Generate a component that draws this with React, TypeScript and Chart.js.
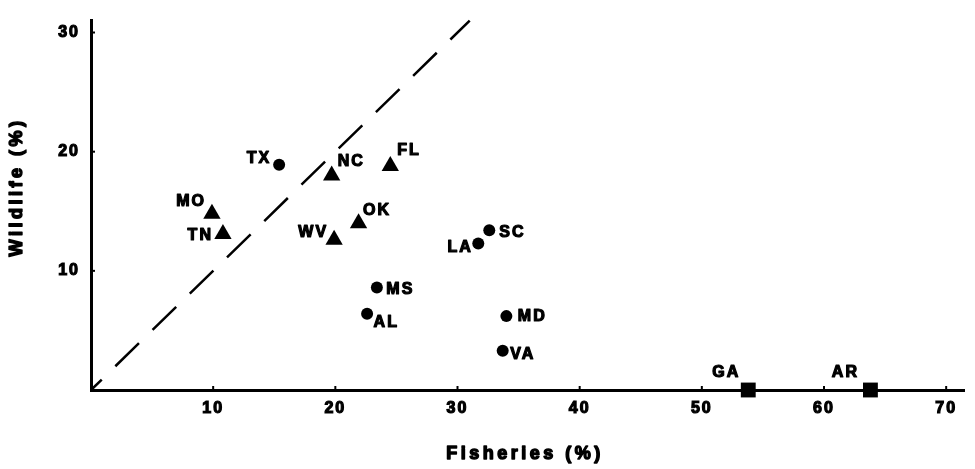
import React, { useEffect, useRef } from "react";
import { Chart, registerables } from "chart.js";

Chart.register(...registerables);

// ---- data ----
const circleStates = ["TX", "LA", "SC", "MS", "AL", "MD", "VA"];
const circleFisheries = [15.4, 31.7, 32.6, 23.4, 22.6, 34.0, 33.7];
const circleWildlife = [18.9, 12.3, 13.4, 8.6, 6.4, 6.2, 3.3];

const triangleStates = ["NC", "FL", "MO", "TN", "WV", "OK"];
const triangleFisheries = [19.7, 24.5, 9.9, 10.8, 19.9, 21.9];
const triangleWildlife = [18.0, 18.8, 14.8, 13.1, 12.6, 14.0];

const squareStates = ["GA", "AR"];
const squareFisheries = [53.8, 63.8];
const squareWildlife = [0, 0];

const refLineX = [0, 31];
const refLineY = [0, 31];

const xTicks = [10, 20, 30, 40, 50, 60, 70];
const yTicks = [10, 20, 30];

const xTitle = "Fisheries (%)";
const yTitle = "Wildlife (%)";

// ---- label placement (style) : side R = label right of point, L = label left ----
const labelPlacement: Record<string, [string, number, number]> = {
  TX: ["L", -10, -6],
  NC: ["R", 6, -13.5],
  FL: ["R", 7, -15.5],
  MO: ["L", -8, -12],
  TN: ["L", -12, 1.5],
  WV: ["L", -8, -7],
  OK: ["R", 4.5, -12.5],
  LA: ["L", -7.5, 4.5],
  SC: ["R", 10, 2],
  MS: ["R", 9.5, 2],
  AL: ["R", 6.5, 9],
  MD: ["R", 11.5, 0],
  VA: ["R", 7.5, 4],
  GA: ["L", -10, -17.5],
  AR: ["L", -13.5, -17.5],
};

const FONT = "'Liberation Sans', Arial, sans-serif";

const pts = (xs: number[], ys: number[]) => xs.map((x, i) => ({ x, y: ys[i] }));

const heavyText = (ctx: CanvasRenderingContext2D, t: string, x: number, y: number, sw: number) => {
  ctx.lineWidth = sw;
  ctx.lineJoin = "round";
  ctx.strokeStyle = "#000";
  ctx.strokeText(t, x, y);
  ctx.fillText(t, x, y);
};

const decorPlugin = {
  id: "decor",
  beforeDraw(chart: any) {
    const ctx = chart.ctx;
    ctx.fillStyle = "#fff";
    ctx.fillRect(0, 0, chart.width, chart.height);
    (ctx as any).letterSpacing = "2px";
  },
  afterDraw(chart: any) {
    const ctx = chart.ctx;
    const xs = chart.scales.x;
    const ys = chart.scales.y;
    const area = chart.chartArea;
    ctx.save();
    // inward tick bumps
    ctx.strokeStyle = "#000";
    ctx.lineWidth = 2;
    xTicks.forEach((v) => {
      const px = xs.getPixelForValue(v);
      ctx.beginPath();
      ctx.moveTo(px, area.bottom);
      ctx.lineTo(px, area.bottom - 4);
      ctx.stroke();
    });
    yTicks.forEach((v) => {
      const py = ys.getPixelForValue(v);
      ctx.beginPath();
      ctx.moveTo(area.left, py);
      ctx.lineTo(area.left + 4, py);
      ctx.stroke();
    });
    // point labels
    ctx.fillStyle = "#000";
    ctx.font = `bold 16px ${FONT}`;
    (ctx as any).letterSpacing = "2px";
    ctx.textBaseline = "middle";
    ctx.textAlign = "left";
    chart.data.datasets.forEach((ds: any, di: number) => {
      if (!ds.stateLabels) return;
      const meta = chart.getDatasetMeta(di);
      meta.data.forEach((el: any, j: number) => {
        const name = ds.stateLabels[j];
        const p = labelPlacement[name] || ["R", 8, 0];
        const w = ctx.measureText(name).width - 2;
        const x = p[0] === "R" ? el.x + p[1] : el.x + p[1] - w;
        heavyText(ctx, name, x, el.y + p[2], 1.2);
      });
    });
    // axis titles
    ctx.font = `bold 18px ${FONT}`;
    (ctx as any).letterSpacing = "3.5px";
    ctx.textAlign = "center";
    heavyText(ctx, xTitle, 525, 454, 1.4);
    ctx.translate(17, 187);
    ctx.rotate(-Math.PI / 2);
    heavyText(ctx, yTitle, 0, 0, 1.4);
    ctx.restore();
  },
};

export default function App() {
  const ref = useRef<HTMLCanvasElement | null>(null);
  useEffect(() => {
    document.body.style.margin = "0";
    if (!ref.current) return;
    const tickFont = { family: FONT, size: 16, weight: "bold" as const };
    const chart = new Chart(ref.current, {
      type: "scatter",
      data: {
        datasets: [
          {
            type: "line",
            data: pts(refLineX, refLineY),
            borderColor: "#000",
            borderWidth: 2.5,
            borderDash: [33, 19],
            borderDashOffset: 18,
            pointRadius: 0,
            fill: false,
            clip: false,
          } as any,
          {
            data: pts(circleFisheries, circleWildlife),
            stateLabels: circleStates,
            pointStyle: "circle",
            pointRadius: 6,
            backgroundColor: "#000",
            borderColor: "#000",
            borderWidth: 0,
            clip: false,
          } as any,
          {
            data: pts(triangleFisheries, triangleWildlife),
            stateLabels: triangleStates,
            pointStyle: "triangle",
            pointRadius: 10,
            backgroundColor: "#000",
            borderColor: "#000",
            borderWidth: 0,
            clip: false,
          } as any,
          {
            data: pts(squareFisheries, squareWildlife),
            stateLabels: squareStates,
            pointStyle: "rect",
            pointRadius: 10.5,
            backgroundColor: "#000",
            borderColor: "#000",
            borderWidth: 0,
            clip: false,
          } as any,
        ],
      },
      options: {
        animation: false,
        responsive: true,
        maintainAspectRatio: false,
        layout: { padding: { top: 9, right: 7, left: 0, bottom: 0 } },
        plugins: {
          legend: { display: false },
          tooltip: { enabled: false },
        },
        scales: {
          x: {
            type: "linear",
            min: 0,
            max: 71.5,
            grid: { display: false, drawTicks: false },
            border: { display: true, color: "#000", width: 3 },
            ticks: {
              color: "#000",
              font: tickFont,
              padding: 9,
              maxRotation: 0,
              textStrokeColor: "#000",
              textStrokeWidth: 1.2,
            },
            afterBuildTicks: (axis: any) => {
              axis.ticks = xTicks.map((v) => ({ value: v }));
            },
            afterFit: (axis: any) => {
              axis.height = 79;
            },
          },
          y: {
            type: "linear",
            min: 0,
            max: 31,
            grid: { display: false, drawTicks: false },
            border: { display: true, color: "#000", width: 3 },
            ticks: {
              color: "#000",
              font: tickFont,
              padding: 11,
              textStrokeColor: "#000",
              textStrokeWidth: 1.2,
            },
            afterBuildTicks: (axis: any) => {
              axis.ticks = yTicks.map((v) => ({ value: v }));
            },
            afterFit: (axis: any) => {
              axis.width = 91;
            },
          },
        },
      } as any,
      plugins: [decorPlugin],
    });
    return () => chart.destroy();
  }, []);
  return (
    <div style={{ position: "relative", width: 975, height: 469 }}>
      <canvas ref={ref} />
    </div>
  );
}
